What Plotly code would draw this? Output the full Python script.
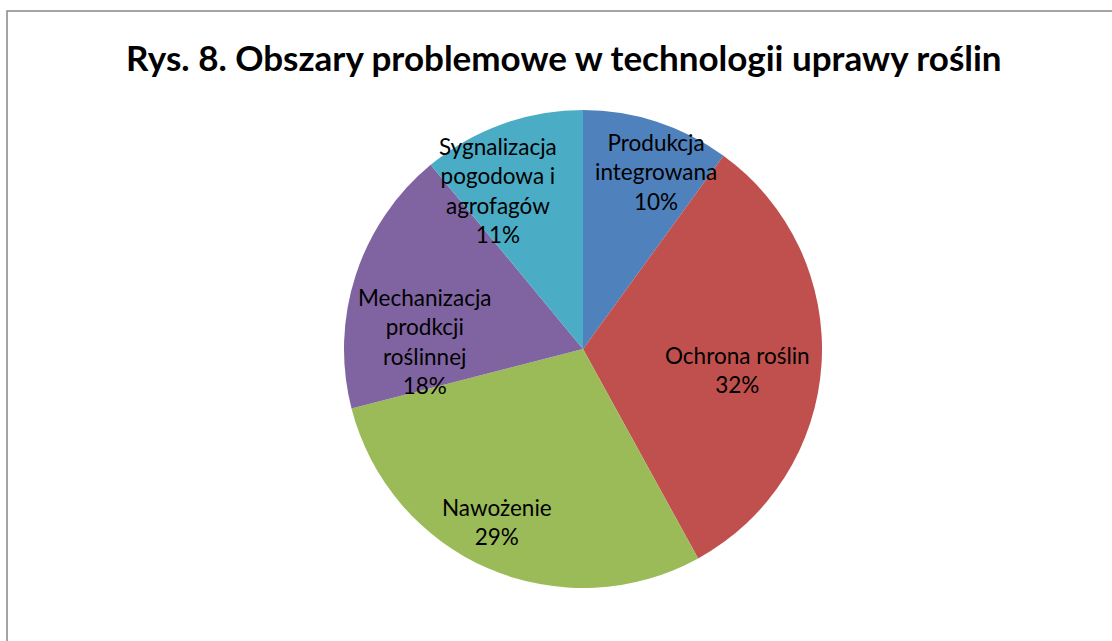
import plotly.graph_objects as go

# Data
labels = ["Produkcja<br>integrowana", "Ochrona roślin", "Nawożenie",
          "Mechanizacja<br>prodkcji<br>roślinnej", "Sygnalizacja<br>pogodowa i<br>agrofagów"]
values = [10, 32, 29, 18, 11]
colors = ["#4F81BD", "#C0504D", "#9BBB59", "#8064A2", "#4BACC6"]

# label centres in pixels (Excel-like placement)
label_pos = [(656, 172), (737, 370), (497, 522), (425, 341), (498, 190)]

W, H = 1112, 641
cx, cy, r = 583, 349, 239

fig = go.Figure(go.Pie(
    labels=labels,
    values=values,
    sort=False,
    direction="clockwise",
    rotation=0,
    marker=dict(colors=colors, line=dict(width=0)),
    textinfo="none",
    hoverinfo="label+percent",
    showlegend=False,
    domain=dict(x=[(cx - r) / W, (cx + r) / W], y=[1 - (cy + r) / H, 1 - (cy - r) / H]),
))

annotations = []
for lab, v, (px, py) in zip(labels, values, label_pos):
    annotations.append(dict(
        x=px / W, y=1 - py / H, xref="paper", yref="paper",
        xanchor="center", yanchor="middle",
        text=f"{lab}<br>{v}%", showarrow=False, align="center",
        font=dict(family="Lato", size=22.5, color="#000000"),
    ))

annotations.append(dict(
    x=564 / W, y=1 - 57 / H, xref="paper", yref="paper",
    xanchor="center", yanchor="middle",
    text="<b>Rys. 8. Obszary problemowe w technologii uprawy roślin</b>",
    showarrow=False, font=dict(family="Lato", size=35, color="#000000"),
))

fig.update_layout(
    width=W, height=H,
    margin=dict(l=0, r=0, t=0, b=0),
    paper_bgcolor="white",
    annotations=annotations,
    shapes=[dict(type="rect", xref="paper", yref="paper",
                 x0=7 / W, x1=1.02, y0=-0.02, y1=1 - 11 / H,
                 line=dict(color="#878787", width=1.5))],
)

# page has a default body margin; drop it so pixels line up
fig.write_html("out.html", config={"displayModeBar": False},
               post_script="document.body.style.margin='0';")
